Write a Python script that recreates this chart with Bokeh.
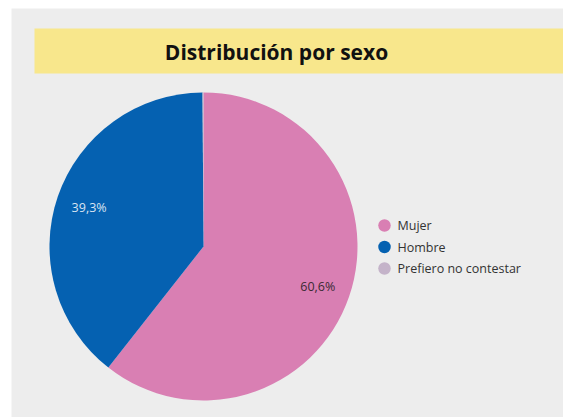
import math
from bokeh.plotting import figure
from bokeh.models import Range1d, ColumnDataSource
from bokeh.core.properties import value
from bokeh.embed import file_html
from bokeh.resources import INLINE

categories = ["Mujer", "Hombre", "Prefiero no contestar"]
values = [60.6, 39.3, 0.1]
labels = ["60,6%", "39,3%", ""]
colors = ["#d97fb3", "#0561b1", "#c4b3c9"]
label_colors = ["#3a2a33", "#d9e4f2", "#333333"]
title_text = "Distribución por sexo"

W, H = 563, 417
p = figure(width=W, height=H, output_backend="svg", toolbar_location=None,
           x_range=Range1d(0, W), y_range=Range1d(0, H), min_border=0,
           border_fill_color="white", background_fill_color="white")
p.axis.visible = False
p.grid.visible = False
p.outline_line_color = None

# panel and title banner
p.quad(left=11, right=W, bottom=0, top=409, fill_color="#ededed", line_color=None)
p.quad(left=34, right=W, bottom=344, top=389, fill_color="#f8e78c", line_color=None)
p.text(x=[276], y=[366], text=[title_text], text_font=value("Open Sans"),
       text_font_style="bold", text_font_size="21px", text_color="#111111",
       text_align="center", text_baseline="middle")

# pie
cx, cy, R = 203, 171, 154
total = sum(values)
starts, ends, lx, ly = [], [], [], []
acc = 0.0
for v in values:
    a0 = math.pi / 2 - 2 * math.pi * acc / total
    a1 = math.pi / 2 - 2 * math.pi * (acc + v) / total
    starts.append(a0)
    ends.append(a1)
    mid = (a0 + a1) / 2
    lx.append(cx + 0.785 * R * math.cos(mid))
    ly.append(cy + 0.785 * R * math.sin(mid))
    acc += v

src = ColumnDataSource(dict(start=starts, end=ends, color=colors, cat=categories,
                            lx=lx, ly=ly, label=labels, lcolor=label_colors))
p.wedge(x=cx, y=cy, radius=R, start_angle="start", end_angle="end",
        direction="clock", fill_color="color", line_color=None, source=src)
p.text(x="lx", y="ly", text="label", text_color="lcolor", source=src,
       text_font=value("Open Sans"), text_font_size="12.5px",
       text_align="center", text_baseline="middle")

# legend
leg_y = [192 - 21.5 * i for i in range(len(categories))]
p.scatter(x=[384] * len(categories), y=leg_y, size=12.5, marker="circle",
          fill_color=colors, line_color=None)
p.text(x=[397] * len(categories), y=leg_y, text=categories,
       text_font=value("Open Sans"), text_font_size="12.5px", text_color="#333333",
       text_align="left", text_baseline="middle")

open("out.html", "w").write(file_html(p, INLINE))
